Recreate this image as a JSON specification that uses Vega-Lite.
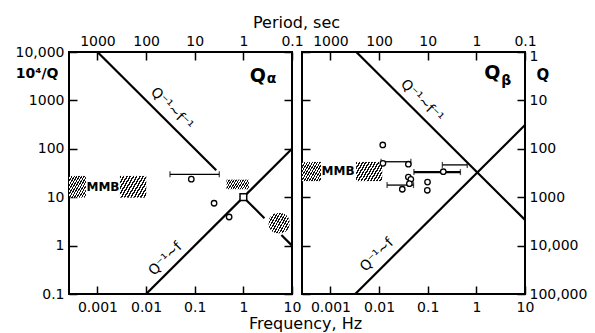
{
  "$schema": "https://vega.github.io/schema/vega-lite/v6.json",
  "background": "white",
  "padding": {"left": 14, "top": 13, "right": 0, "bottom": 0},
  "bounds": "flush",
  "spacing": 10,
  "config": {
    "font": "DejaVu Sans",
    "view": {"stroke": "black", "strokeWidth": 2},
    "axis": {"grid": false, "domain": false, "tickColor": "black", "tickWidth": 1.5, "tickSize": -8, "labelFont": "DejaVu Sans", "labelFontSize": 14, "labelColor": "black", "labelFlush": false, "labelOverlap": false, "titleFont": "DejaVu Sans", "titleColor": "black"}
  },
  "datasets": {
    "lines": [
      {"panel": "a", "seg": "a1", "f": 0.001, "y": 10000}, {"panel": "a", "seg": "a1", "f": 0.277, "y": 36.1},
      {"panel": "a", "seg": "a2", "f": 1, "y": 10}, {"panel": "a", "seg": "a2", "f": 2.71, "y": 3.69},
      {"panel": "a", "seg": "a3", "f": 6.06, "y": 1.65}, {"panel": "a", "seg": "a3", "f": 10, "y": 1},
      {"panel": "a", "seg": "a4", "f": 0.01, "y": 0.1}, {"panel": "a", "seg": "a4", "f": 10, "y": 100},
      {"panel": "b", "seg": "b1", "f": 0.0034, "y": 10000}, {"panel": "b", "seg": "b1", "f": 10, "y": 3.4},
      {"panel": "b", "seg": "b2", "f": 0.00323, "y": 0.1}, {"panel": "b", "seg": "b2", "f": 10, "y": 310}
    ],
    "hatch": [
      {"panel": "a", "id": "L1", "f": 0.00026, "f2": 0.00058, "y": 9.8, "y2": 27.5},
      {"panel": "a", "id": "L2", "f": 0.0029, "f2": 0.0101, "y": 9.8, "y2": 27.5},
      {"panel": "a", "id": "L3", "f": 0.45, "f2": 1.3, "y": 14.6, "y2": 23},
      {"panel": "a", "id": "L4", "f": 3.3, "f2": 8.9, "y": 1.8, "y2": 4.7},
      {"panel": "b", "id": "R1", "f": 0.00026, "f2": 0.00064, "y": 21.5, "y2": 53.5},
      {"panel": "b", "id": "R2", "f": 0.00336, "f2": 0.0116, "y": 21.5, "y2": 53.5}
    ],
    "points": [
      {"panel": "a", "f": 0.085, "y": 23.6}, {"panel": "a", "f": 0.25, "y": 7.5}, {"panel": "a", "f": 0.51, "y": 3.9},
      {"panel": "b", "f": 0.0119, "y": 120}, {"panel": "b", "f": 0.012, "y": 50}, {"panel": "b", "f": 0.04, "y": 48},
      {"panel": "b", "f": 0.04, "y": 26}, {"panel": "b", "f": 0.045, "y": 23.4}, {"panel": "b", "f": 0.042, "y": 19},
      {"panel": "b", "f": 0.03, "y": 14.6}, {"panel": "b", "f": 0.099, "y": 20.5}, {"panel": "b", "f": 0.098, "y": 13.9},
      {"panel": "b", "f": 0.209, "y": 33.6}
    ],
    "squares": [{"panel": "a", "f": 1, "y": 10}],
    "bars": [
      {"panel": "a", "kind": "thin", "f": 0.031, "f2": 0.32, "y": 29.7},
      {"panel": "b", "kind": "thin", "f": 0.011, "f2": 0.045, "y": 54},
      {"panel": "b", "kind": "thin", "f": 0.0146, "f2": 0.051, "y": 17.8},
      {"panel": "b", "kind": "thick", "f": 0.052, "f2": 0.47, "y": 33},
      {"panel": "b", "kind": "thin", "f": 0.2, "f2": 0.65, "y": 46.5}
    ],
    "labels": [
      {"panel": "a", "kind": "down", "text": "Q⁻¹~f⁻¹", "f": 0.0336, "y": 664},
      {"panel": "a", "kind": "up", "text": "Q⁻¹~f", "f": 0.0252, "y": 0.528},
      {"panel": "a", "kind": "mmb", "text": "MMB", "f": 0.0013, "y": 16.5},
      {"panel": "a", "kind": "q", "text": "Q", "f": 1.99, "y": 3266},
      {"panel": "a", "kind": "sub", "text": "α", "f": 3.78, "y": 2767},
      {"panel": "b", "kind": "down", "text": "Q⁻¹~f⁻¹", "f": 0.0755, "y": 972},
      {"panel": "b", "kind": "up", "text": "Q⁻¹~f", "f": 0.0091, "y": 0.64},
      {"panel": "b", "kind": "mmb", "text": "MMB", "f": 0.00143, "y": 34.8},
      {"panel": "b", "kind": "q", "text": "Q", "f": 2.13, "y": 3597},
      {"panel": "b", "kind": "sub", "text": "β", "f": 4.14, "y": 2515}
    ]
  },
  "hconcat": [
    {
      "width": 223, "height": 242,
      "encoding": {
        "x": {"field": "f", "type": "quantitative", "scale": {"type": "log", "domain": [0.00026, 10], "nice": false}, "axis": null},
        "y": {"field": "y", "type": "quantitative", "scale": {"type": "log", "domain": [0.1, 10000], "nice": false}, "axis": null}
      },
      "layer": [
        {"data": {"name": "hatch"}, "transform": [{"filter": "datum.id == 'L1'"}],
         "mark": {"type": "rect", "clip": true, "fill": {"gradient": "linear", "x1": 0, "y1": 0, "x2": 1.129, "y2": 0.823, "stops": [{"offset":0,"color":"#111"},{"offset":0.0417,"color":"#111"},{"offset":0.0417,"color":"#fff"},{"offset":0.0833,"color":"#fff"},{"offset":0.0833,"color":"#111"},{"offset":0.125,"color":"#111"},{"offset":0.125,"color":"#fff"},{"offset":0.1667,"color":"#fff"},{"offset":0.1667,"color":"#111"},{"offset":0.2083,"color":"#111"},{"offset":0.2083,"color":"#fff"},{"offset":0.25,"color":"#fff"},{"offset":0.25,"color":"#111"},{"offset":0.2917,"color":"#111"},{"offset":0.2917,"color":"#fff"},{"offset":0.3333,"color":"#fff"},{"offset":0.3333,"color":"#111"},{"offset":0.375,"color":"#111"},{"offset":0.375,"color":"#fff"},{"offset":0.4167,"color":"#fff"},{"offset":0.4167,"color":"#111"},{"offset":0.4583,"color":"#111"},{"offset":0.4583,"color":"#fff"},{"offset":0.5,"color":"#fff"},{"offset":0.5,"color":"#111"},{"offset":0.5417,"color":"#111"},{"offset":0.5417,"color":"#fff"},{"offset":0.5833,"color":"#fff"},{"offset":0.5833,"color":"#111"},{"offset":0.625,"color":"#111"},{"offset":0.625,"color":"#fff"},{"offset":0.6667,"color":"#fff"},{"offset":0.6667,"color":"#111"},{"offset":0.7083,"color":"#111"},{"offset":0.7083,"color":"#fff"},{"offset":0.75,"color":"#fff"},{"offset":0.75,"color":"#111"},{"offset":0.7917,"color":"#111"},{"offset":0.7917,"color":"#fff"},{"offset":0.8333,"color":"#fff"},{"offset":0.8333,"color":"#111"},{"offset":0.875,"color":"#111"},{"offset":0.875,"color":"#fff"},{"offset":0.9167,"color":"#fff"},{"offset":0.9167,"color":"#111"},{"offset":0.9583,"color":"#111"},{"offset":0.9583,"color":"#fff"},{"offset":1,"color":"#fff"}]}},
         "encoding": {"x2": {"field": "f2"}, "y2": {"field": "y2"}}},
        {"data": {"name": "hatch"}, "transform": [{"filter": "datum.id == 'L2'"}],
         "mark": {"type": "rect", "clip": true, "fill": {"gradient": "linear", "x1": 0, "y1": 0, "x2": 1.203, "y2": 0.577, "stops": [{"offset":0,"color":"#111"},{"offset":0.0417,"color":"#111"},{"offset":0.0417,"color":"#fff"},{"offset":0.0833,"color":"#fff"},{"offset":0.0833,"color":"#111"},{"offset":0.125,"color":"#111"},{"offset":0.125,"color":"#fff"},{"offset":0.1667,"color":"#fff"},{"offset":0.1667,"color":"#111"},{"offset":0.2083,"color":"#111"},{"offset":0.2083,"color":"#fff"},{"offset":0.25,"color":"#fff"},{"offset":0.25,"color":"#111"},{"offset":0.2917,"color":"#111"},{"offset":0.2917,"color":"#fff"},{"offset":0.3333,"color":"#fff"},{"offset":0.3333,"color":"#111"},{"offset":0.375,"color":"#111"},{"offset":0.375,"color":"#fff"},{"offset":0.4167,"color":"#fff"},{"offset":0.4167,"color":"#111"},{"offset":0.4583,"color":"#111"},{"offset":0.4583,"color":"#fff"},{"offset":0.5,"color":"#fff"},{"offset":0.5,"color":"#111"},{"offset":0.5417,"color":"#111"},{"offset":0.5417,"color":"#fff"},{"offset":0.5833,"color":"#fff"},{"offset":0.5833,"color":"#111"},{"offset":0.625,"color":"#111"},{"offset":0.625,"color":"#fff"},{"offset":0.6667,"color":"#fff"},{"offset":0.6667,"color":"#111"},{"offset":0.7083,"color":"#111"},{"offset":0.7083,"color":"#fff"},{"offset":0.75,"color":"#fff"},{"offset":0.75,"color":"#111"},{"offset":0.7917,"color":"#111"},{"offset":0.7917,"color":"#fff"},{"offset":0.8333,"color":"#fff"},{"offset":0.8333,"color":"#111"},{"offset":0.875,"color":"#111"},{"offset":0.875,"color":"#fff"},{"offset":0.9167,"color":"#fff"},{"offset":0.9167,"color":"#111"},{"offset":0.9583,"color":"#111"},{"offset":0.9583,"color":"#fff"},{"offset":1,"color":"#fff"}]}},
         "encoding": {"x2": {"field": "f2"}, "y2": {"field": "y2"}}},
        {"data": {"name": "hatch"}, "transform": [{"filter": "datum.id == 'L3'"}],
         "mark": {"type": "rect", "clip": true, "fill": {"gradient": "linear", "x1": 0, "y1": 0, "x2": 1.181, "y2": 0.309, "stops": [{"offset":0,"color":"#111"},{"offset":0.0417,"color":"#111"},{"offset":0.0417,"color":"#fff"},{"offset":0.0833,"color":"#fff"},{"offset":0.0833,"color":"#111"},{"offset":0.125,"color":"#111"},{"offset":0.125,"color":"#fff"},{"offset":0.1667,"color":"#fff"},{"offset":0.1667,"color":"#111"},{"offset":0.2083,"color":"#111"},{"offset":0.2083,"color":"#fff"},{"offset":0.25,"color":"#fff"},{"offset":0.25,"color":"#111"},{"offset":0.2917,"color":"#111"},{"offset":0.2917,"color":"#fff"},{"offset":0.3333,"color":"#fff"},{"offset":0.3333,"color":"#111"},{"offset":0.375,"color":"#111"},{"offset":0.375,"color":"#fff"},{"offset":0.4167,"color":"#fff"},{"offset":0.4167,"color":"#111"},{"offset":0.4583,"color":"#111"},{"offset":0.4583,"color":"#fff"},{"offset":0.5,"color":"#fff"},{"offset":0.5,"color":"#111"},{"offset":0.5417,"color":"#111"},{"offset":0.5417,"color":"#fff"},{"offset":0.5833,"color":"#fff"},{"offset":0.5833,"color":"#111"},{"offset":0.625,"color":"#111"},{"offset":0.625,"color":"#fff"},{"offset":0.6667,"color":"#fff"},{"offset":0.6667,"color":"#111"},{"offset":0.7083,"color":"#111"},{"offset":0.7083,"color":"#fff"},{"offset":0.75,"color":"#fff"},{"offset":0.75,"color":"#111"},{"offset":0.7917,"color":"#111"},{"offset":0.7917,"color":"#fff"},{"offset":0.8333,"color":"#fff"},{"offset":0.8333,"color":"#111"},{"offset":0.875,"color":"#111"},{"offset":0.875,"color":"#fff"},{"offset":0.9167,"color":"#fff"},{"offset":0.9167,"color":"#111"},{"offset":0.9583,"color":"#111"},{"offset":0.9583,"color":"#fff"},{"offset":1,"color":"#fff"}]}},
         "encoding": {"x2": {"field": "f2"}, "y2": {"field": "y2"}}},
        {"data": {"name": "hatch"}, "transform": [{"filter": "datum.id == 'L4'"}],
         "mark": {"type": "rect", "clip": true, "cornerRadius": 9, "fill": {"gradient": "linear", "x1": 0, "y1": 0, "x2": 1.187, "y2": 0.665, "stops": [{"offset":0,"color":"#111"},{"offset":0.0417,"color":"#111"},{"offset":0.0417,"color":"#fff"},{"offset":0.0833,"color":"#fff"},{"offset":0.0833,"color":"#111"},{"offset":0.125,"color":"#111"},{"offset":0.125,"color":"#fff"},{"offset":0.1667,"color":"#fff"},{"offset":0.1667,"color":"#111"},{"offset":0.2083,"color":"#111"},{"offset":0.2083,"color":"#fff"},{"offset":0.25,"color":"#fff"},{"offset":0.25,"color":"#111"},{"offset":0.2917,"color":"#111"},{"offset":0.2917,"color":"#fff"},{"offset":0.3333,"color":"#fff"},{"offset":0.3333,"color":"#111"},{"offset":0.375,"color":"#111"},{"offset":0.375,"color":"#fff"},{"offset":0.4167,"color":"#fff"},{"offset":0.4167,"color":"#111"},{"offset":0.4583,"color":"#111"},{"offset":0.4583,"color":"#fff"},{"offset":0.5,"color":"#fff"},{"offset":0.5,"color":"#111"},{"offset":0.5417,"color":"#111"},{"offset":0.5417,"color":"#fff"},{"offset":0.5833,"color":"#fff"},{"offset":0.5833,"color":"#111"},{"offset":0.625,"color":"#111"},{"offset":0.625,"color":"#fff"},{"offset":0.6667,"color":"#fff"},{"offset":0.6667,"color":"#111"},{"offset":0.7083,"color":"#111"},{"offset":0.7083,"color":"#fff"},{"offset":0.75,"color":"#fff"},{"offset":0.75,"color":"#111"},{"offset":0.7917,"color":"#111"},{"offset":0.7917,"color":"#fff"},{"offset":0.8333,"color":"#fff"},{"offset":0.8333,"color":"#111"},{"offset":0.875,"color":"#111"},{"offset":0.875,"color":"#fff"},{"offset":0.9167,"color":"#fff"},{"offset":0.9167,"color":"#111"},{"offset":0.9583,"color":"#111"},{"offset":0.9583,"color":"#fff"},{"offset":1,"color":"#fff"}]}},
         "encoding": {"x2": {"field": "f2"}, "y2": {"field": "y2"}}},
        {"data": {"name": "lines"}, "transform": [{"filter": "datum.panel == 'a'"}],
         "mark": {"type": "line", "color": "black", "strokeWidth": 2.2, "clip": true},
         "encoding": {
           "x": {"field": "f", "type": "quantitative", "scale": {"type": "log", "domain": [0.00026, 10], "nice": false},
                 "axis": {"orient": "bottom", "values": [0.001, 0.01, 0.1, 1, 10], "format": "~g", "labelPadding": 14, "title": "Frequency, Hz", "titleFontSize": 16, "titleFontWeight": "normal", "titleX": 236, "titleY": 34, "titleAlign": "center", "titleBaseline": "alphabetic"}},
           "y": {"field": "y", "type": "quantitative", "scale": {"type": "log", "domain": [0.1, 10000], "nice": false},
                 "axis": {"orient": "left", "values": [0.1, 1, 10, 100, 1000, 10000], "labelExpr": "datum.value > 5000 ? '10,000' : format(datum.value, '~g')", "labelPadding": 13, "title": "10⁴/Q", "titleAngle": 0, "titleX": -11, "titleY": 21, "titleAlign": "right", "titleBaseline": "middle", "titleFontSize": 14, "titleFontWeight": "bold"}},
           "detail": {"field": "seg"}
         }},
        {"data": {"name": "bars"}, "transform": [{"filter": "datum.panel == 'a'"}],
         "mark": {"type": "rule", "color": "black", "strokeWidth": 1.3},
         "encoding": {"x2": {"field": "f2"}}},
        {"data": {"name": "bars"}, "transform": [{"filter": "datum.panel == 'a'"}],
         "mark": {"type": "tick", "orient": "vertical", "color": "black", "size": 6, "thickness": 1.3}},
        {"data": {"name": "bars"}, "transform": [{"filter": "datum.panel == 'a'"}],
         "mark": {"type": "tick", "orient": "vertical", "color": "black", "size": 6, "thickness": 1.3},
         "encoding": {"x": {"field": "f2", "type": "quantitative", "scale": {"type": "log", "domain": [0.00026, 10], "nice": false}, "axis": null}}},
        {"data": {"name": "points"}, "transform": [{"filter": "datum.panel == 'a'"}],
         "mark": {"type": "point", "shape": "circle", "size": 30, "filled": true, "fill": "white", "stroke": "black", "strokeWidth": 1.3, "opacity": 1},
         "encoding": {
           "x": {"field": "f", "type": "quantitative", "scale": {"type": "log", "domain": [0.00026, 10], "nice": false},
                 "axis": {"orient": "top", "values": [0.001, 0.01, 0.1, 1, 10], "labelExpr": "format(1/datum.value, '~g')", "labelPadding": 12, "title": "Period, sec", "titleFontSize": 16, "titleFontWeight": "normal", "titleX": 227, "titleY": -25, "titleAlign": "center", "titleBaseline": "alphabetic"}},
           "y": {"field": "y", "type": "quantitative", "scale": {"type": "log", "domain": [0.1, 10000], "nice": false},
                 "axis": {"orient": "right", "values": [0.1, 1, 10, 100, 1000, 10000], "labels": false, "title": null}}
         }},
        {"data": {"name": "squares"}, "transform": [{"filter": "datum.panel == 'a'"}],
         "mark": {"type": "point", "shape": "square", "size": 45, "filled": true, "fill": "white", "stroke": "black", "strokeWidth": 1.5, "opacity": 1}},
        {"data": {"name": "labels"}, "transform": [{"filter": "datum.panel == 'a' && datum.kind == 'down'"}],
         "mark": {"type": "text", "angle": 45, "fontSize": 14, "color": "black"}, "encoding": {"text": {"field": "text"}}},
        {"data": {"name": "labels"}, "transform": [{"filter": "datum.panel == 'a' && datum.kind == 'up'"}],
         "mark": {"type": "text", "angle": 315, "fontSize": 14, "color": "black"}, "encoding": {"text": {"field": "text"}}},
        {"data": {"name": "labels"}, "transform": [{"filter": "datum.panel == 'a' && datum.kind == 'mmb'"}],
         "mark": {"type": "text", "fontSize": 12, "fontWeight": "bold", "color": "black"}, "encoding": {"text": {"field": "text"}}},
        {"data": {"name": "labels"}, "transform": [{"filter": "datum.panel == 'a' && datum.kind == 'q'"}],
         "mark": {"type": "text", "fontSize": 19, "fontWeight": "bold", "color": "black"}, "encoding": {"text": {"field": "text"}}},
        {"data": {"name": "labels"}, "transform": [{"filter": "datum.panel == 'a' && datum.kind == 'sub'"}],
         "mark": {"type": "text", "fontSize": 14, "fontWeight": "bold", "color": "black"}, "encoding": {"text": {"field": "text"}}}
      ],
      "resolve": {"axis": {"x": "independent", "y": "independent"}}
    },
    {
      "width": 223, "height": 242,
      "encoding": {
        "x": {"field": "f", "type": "quantitative", "scale": {"type": "log", "domain": [0.00026, 10], "nice": false}, "axis": null},
        "y": {"field": "y", "type": "quantitative", "scale": {"type": "log", "domain": [0.1, 10000], "nice": false}, "axis": null}
      },
      "layer": [
        {"data": {"name": "hatch"}, "transform": [{"filter": "datum.id == 'R1'"}],
         "mark": {"type": "rect", "clip": true, "fill": {"gradient": "linear", "x1": 0, "y1": 0, "x2": 1.18, "y2": 0.694, "stops": [{"offset":0,"color":"#111"},{"offset":0.0417,"color":"#111"},{"offset":0.0417,"color":"#fff"},{"offset":0.0833,"color":"#fff"},{"offset":0.0833,"color":"#111"},{"offset":0.125,"color":"#111"},{"offset":0.125,"color":"#fff"},{"offset":0.1667,"color":"#fff"},{"offset":0.1667,"color":"#111"},{"offset":0.2083,"color":"#111"},{"offset":0.2083,"color":"#fff"},{"offset":0.25,"color":"#fff"},{"offset":0.25,"color":"#111"},{"offset":0.2917,"color":"#111"},{"offset":0.2917,"color":"#fff"},{"offset":0.3333,"color":"#fff"},{"offset":0.3333,"color":"#111"},{"offset":0.375,"color":"#111"},{"offset":0.375,"color":"#fff"},{"offset":0.4167,"color":"#fff"},{"offset":0.4167,"color":"#111"},{"offset":0.4583,"color":"#111"},{"offset":0.4583,"color":"#fff"},{"offset":0.5,"color":"#fff"},{"offset":0.5,"color":"#111"},{"offset":0.5417,"color":"#111"},{"offset":0.5417,"color":"#fff"},{"offset":0.5833,"color":"#fff"},{"offset":0.5833,"color":"#111"},{"offset":0.625,"color":"#111"},{"offset":0.625,"color":"#fff"},{"offset":0.6667,"color":"#fff"},{"offset":0.6667,"color":"#111"},{"offset":0.7083,"color":"#111"},{"offset":0.7083,"color":"#fff"},{"offset":0.75,"color":"#fff"},{"offset":0.75,"color":"#111"},{"offset":0.7917,"color":"#111"},{"offset":0.7917,"color":"#fff"},{"offset":0.8333,"color":"#fff"},{"offset":0.8333,"color":"#111"},{"offset":0.875,"color":"#111"},{"offset":0.875,"color":"#fff"},{"offset":0.9167,"color":"#fff"},{"offset":0.9167,"color":"#111"},{"offset":0.9583,"color":"#111"},{"offset":0.9583,"color":"#fff"},{"offset":1,"color":"#fff"}]}},
         "encoding": {"x2": {"field": "f2"}, "y2": {"field": "y2"}}},
        {"data": {"name": "hatch"}, "transform": [{"filter": "datum.id == 'R2'"}],
         "mark": {"type": "rect", "clip": true, "fill": {"gradient": "linear", "x1": 0, "y1": 0, "x2": 1.207, "y2": 0.519, "stops": [{"offset":0,"color":"#111"},{"offset":0.0417,"color":"#111"},{"offset":0.0417,"color":"#fff"},{"offset":0.0833,"color":"#fff"},{"offset":0.0833,"color":"#111"},{"offset":0.125,"color":"#111"},{"offset":0.125,"color":"#fff"},{"offset":0.1667,"color":"#fff"},{"offset":0.1667,"color":"#111"},{"offset":0.2083,"color":"#111"},{"offset":0.2083,"color":"#fff"},{"offset":0.25,"color":"#fff"},{"offset":0.25,"color":"#111"},{"offset":0.2917,"color":"#111"},{"offset":0.2917,"color":"#fff"},{"offset":0.3333,"color":"#fff"},{"offset":0.3333,"color":"#111"},{"offset":0.375,"color":"#111"},{"offset":0.375,"color":"#fff"},{"offset":0.4167,"color":"#fff"},{"offset":0.4167,"color":"#111"},{"offset":0.4583,"color":"#111"},{"offset":0.4583,"color":"#fff"},{"offset":0.5,"color":"#fff"},{"offset":0.5,"color":"#111"},{"offset":0.5417,"color":"#111"},{"offset":0.5417,"color":"#fff"},{"offset":0.5833,"color":"#fff"},{"offset":0.5833,"color":"#111"},{"offset":0.625,"color":"#111"},{"offset":0.625,"color":"#fff"},{"offset":0.6667,"color":"#fff"},{"offset":0.6667,"color":"#111"},{"offset":0.7083,"color":"#111"},{"offset":0.7083,"color":"#fff"},{"offset":0.75,"color":"#fff"},{"offset":0.75,"color":"#111"},{"offset":0.7917,"color":"#111"},{"offset":0.7917,"color":"#fff"},{"offset":0.8333,"color":"#fff"},{"offset":0.8333,"color":"#111"},{"offset":0.875,"color":"#111"},{"offset":0.875,"color":"#fff"},{"offset":0.9167,"color":"#fff"},{"offset":0.9167,"color":"#111"},{"offset":0.9583,"color":"#111"},{"offset":0.9583,"color":"#fff"},{"offset":1,"color":"#fff"}]}},
         "encoding": {"x2": {"field": "f2"}, "y2": {"field": "y2"}}},
        {"data": {"name": "lines"}, "transform": [{"filter": "datum.panel == 'b'"}],
         "mark": {"type": "line", "color": "black", "strokeWidth": 2.2, "clip": true},
         "encoding": {
           "x": {"field": "f", "type": "quantitative", "scale": {"type": "log", "domain": [0.00026, 10], "nice": false},
                 "axis": {"orient": "bottom", "values": [0.001, 0.01, 0.1, 1, 10], "format": "~g", "labelPadding": 14, "title": null}},
           "y": {"field": "y", "type": "quantitative", "scale": {"type": "log", "domain": [0.1, 10000], "nice": false},
                 "axis": {"orient": "left", "values": [0.1, 1, 10, 100, 1000, 10000], "labels": false, "title": null}},
           "detail": {"field": "seg"}
         }},
        {"data": {"name": "bars"}, "transform": [{"filter": "datum.panel == 'b' && datum.kind == 'thin'"}],
         "mark": {"type": "rule", "color": "black", "strokeWidth": 1.3},
         "encoding": {"x2": {"field": "f2"}}},
        {"data": {"name": "bars"}, "transform": [{"filter": "datum.panel == 'b' && datum.kind == 'thick'"}],
         "mark": {"type": "rule", "color": "black", "strokeWidth": 2.3},
         "encoding": {"x2": {"field": "f2"}}},
        {"data": {"name": "bars"}, "transform": [{"filter": "datum.panel == 'b'"}],
         "mark": {"type": "tick", "orient": "vertical", "color": "black", "size": 6, "thickness": 1.3}},
        {"data": {"name": "bars"}, "transform": [{"filter": "datum.panel == 'b'"}],
         "mark": {"type": "tick", "orient": "vertical", "color": "black", "size": 6, "thickness": 1.3},
         "encoding": {"x": {"field": "f2", "type": "quantitative", "scale": {"type": "log", "domain": [0.00026, 10], "nice": false}, "axis": null}}},
        {"data": {"name": "points"}, "transform": [{"filter": "datum.panel == 'b'"}],
         "mark": {"type": "point", "shape": "circle", "size": 30, "filled": true, "fill": "white", "stroke": "black", "strokeWidth": 1.3, "opacity": 1},
         "encoding": {
           "x": {"field": "f", "type": "quantitative", "scale": {"type": "log", "domain": [0.00026, 10], "nice": false},
                 "axis": {"orient": "top", "values": [0.001, 0.01, 0.1, 1, 10], "labelExpr": "format(1/datum.value, '~g')", "labelPadding": 12, "title": null}},
           "y": {"field": "y", "type": "quantitative", "scale": {"type": "log", "domain": [0.1, 10000], "nice": false},
                 "axis": {"orient": "right", "values": [0.1, 1, 10, 100, 1000, 10000], "labelExpr": "datum.value < 1.5 ? format(10000/datum.value, ',.0f') : format(10000/datum.value, '.0f')", "labelPadding": 12, "labelAlign": "left", "labelOffset": {"condition": {"test": "datum.value > 5000", "value": 4}, "value": 0}, "title": "Q", "titleAngle": 0, "titleX": 11, "titleY": 22, "titleAlign": "left", "titleBaseline": "middle", "titleFontSize": 15, "titleFontWeight": "bold"}}
         }},
        {"data": {"name": "labels"}, "transform": [{"filter": "datum.panel == 'b' && datum.kind == 'down'"}],
         "mark": {"type": "text", "angle": 45, "fontSize": 14, "color": "black"}, "encoding": {"text": {"field": "text"}}},
        {"data": {"name": "labels"}, "transform": [{"filter": "datum.panel == 'b' && datum.kind == 'up'"}],
         "mark": {"type": "text", "angle": 315, "fontSize": 14, "color": "black"}, "encoding": {"text": {"field": "text"}}},
        {"data": {"name": "labels"}, "transform": [{"filter": "datum.panel == 'b' && datum.kind == 'mmb'"}],
         "mark": {"type": "text", "fontSize": 12, "fontWeight": "bold", "color": "black"}, "encoding": {"text": {"field": "text"}}},
        {"data": {"name": "labels"}, "transform": [{"filter": "datum.panel == 'b' && datum.kind == 'q'"}],
         "mark": {"type": "text", "fontSize": 19, "fontWeight": "bold", "color": "black"}, "encoding": {"text": {"field": "text"}}},
        {"data": {"name": "labels"}, "transform": [{"filter": "datum.panel == 'b' && datum.kind == 'sub'"}],
         "mark": {"type": "text", "fontSize": 14, "fontWeight": "bold", "color": "black"}, "encoding": {"text": {"field": "text"}}}
      ],
      "resolve": {"axis": {"x": "independent", "y": "independent"}}
    }
  ]
}
